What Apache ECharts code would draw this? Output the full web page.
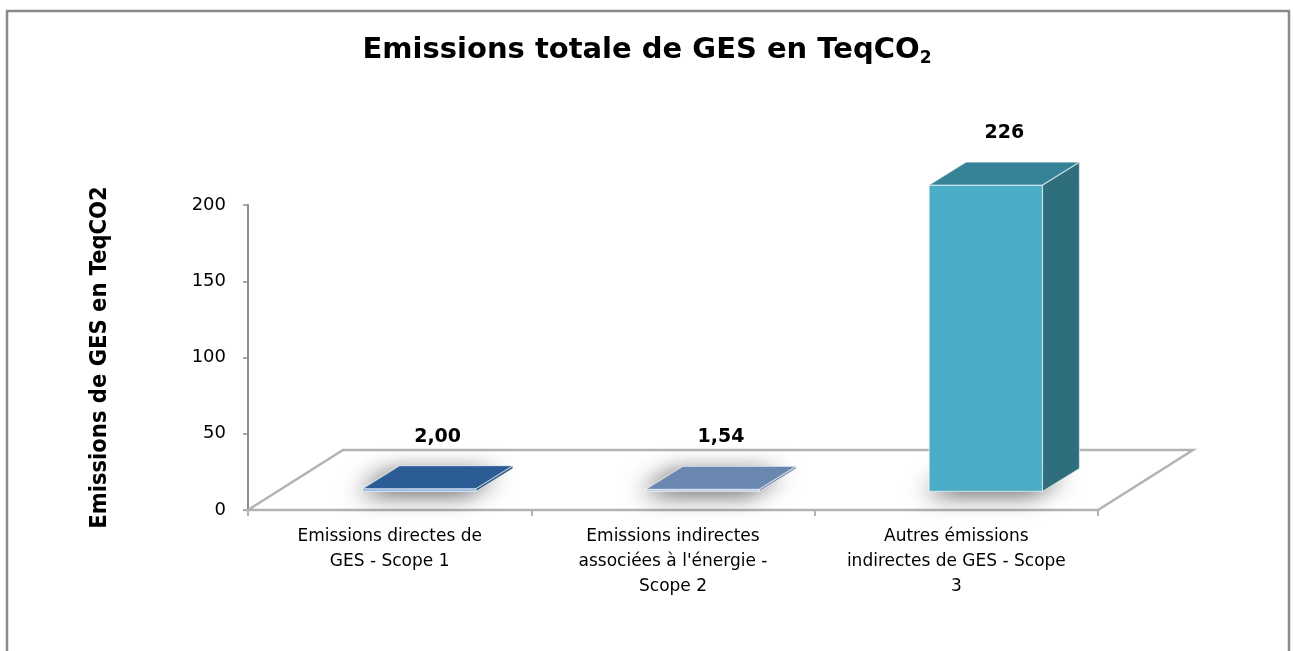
<!DOCTYPE html>
<html>
<head>
<meta charset="utf-8">
<script src="https://cdn.jsdelivr.net/npm/echarts@6/dist/echarts.min.js"></script>
<style>
  html, body { margin: 0; padding: 0; background: #fff; }
  #main { width: 1294px; height: 651px; }
</style>
</head>
<body>
<div id="main"></div>
<script>
// données du graphique
const categories = [
  'Emissions directes de\nGES - Scope 1',
  "Emissions indirectes\nassociées à l'énergie -\nScope 2",
  'Autres émissions\nindirectes de GES - Scope\n3'
];
const values = [2.00, 1.54, 226];
const yTicks = [0, 50, 100, 150, 200];

// couleurs des faces : avant, dessus, côté
const faceColors = [
  ['#8DB3E2', '#2B5C96', '#24497A'],
  ['#B4C7E0', '#6A88AF', '#556F91'],
  ['#4AACC6', '#368296', '#2F6E7D']
];

const FLOOR_D = [95, -60];   // profondeur du sol
const BAR_D = [37, -23];     // profondeur d'une barre
const BAR_POS = 0.31;        // position de la barre dans la profondeur
const BAR_RATIO = 0.4;

const chart = echarts.init(document.getElementById('main'));

function fmtLabel(v) {
  return v >= 100 ? String(Math.round(v)) : v.toFixed(2).replace('.', ',');
}

// sol en perspective, calé sur la grille
function renderFloor(params, api) {
  let cs = params.coordSys;
  let x0 = cs.x, x1 = cs.x + cs.width, y = cs.y + cs.height;
  return {
    type: 'group',
    children: [{
      type: 'polygon',
      shape: { points: [[x0, y], [x0 + FLOOR_D[0], y + FLOOR_D[1]], [x1 + FLOOR_D[0], y + FLOOR_D[1]], [x1, y]] },
      style: { fill: '#fff', stroke: '#b3b3b3', lineWidth: 2.5 }
    }]
  };
}

function renderBar(params, api) {
  let i = api.value(0);
  let v = api.value(1);
  let base = api.coord([i, 0]);
  let top = api.coord([i, v]);
  let bw = api.size([1, 0])[0] * BAR_RATIO;
  let ox = FLOOR_D[0] * BAR_POS, oy = FLOOR_D[1] * BAR_POS;
  let x0 = base[0] - bw / 2 + ox, x1 = x0 + bw;
  let yb = base[1] + oy, yt = top[1] + oy;
  let dx = BAR_D[0], dy = BAR_D[1];
  let c = faceColors[params.dataIndex];
  let edge = 'rgba(255,255,255,0.55)';
  return {
    type: 'group',
    children: [
      {
        // ombre floue sur le sol, la forme elle-même est cachée sous la barre
        type: 'polygon',
        shape: { points: [[x0 + 4, yb - 1], [x0 + dx, yb + dy + 2], [x1 + dx - 4, yb + dy + 2], [x1, yb - 1]] },
        style: { fill: '#555', shadowBlur: 24, shadowOffsetX: -10, shadowOffsetY: 3, shadowColor: 'rgba(0,0,0,0.75)' },
        z2: 0
      },
      {
        type: 'polygon',
        shape: { points: [[x1, yt], [x1 + dx, yt + dy], [x1 + dx, yb + dy], [x1, yb]] },
        style: { fill: c[2], stroke: edge, lineWidth: 1.2 },
        z2: 1
      },
      {
        type: 'rect',
        shape: { x: x0, y: yt, width: bw, height: Math.max(yb - yt, 1) },
        style: { fill: c[0], stroke: edge, lineWidth: 1.2 },
        z2: 2
      },
      {
        type: 'polygon',
        shape: { points: [[x0, yt], [x0 + dx, yt + dy], [x1 + dx, yt + dy], [x1, yt]] },
        style: { fill: c[1], stroke: edge, lineWidth: 1.2 },
        z2: 3
      },
      {
        type: 'text',
        x: (x0 + x1) / 2 + dx / 2,
        y: yt + dy - 29,
        style: {
          text: fmtLabel(v),
          font: 'bold 19px "DejaVu Sans"',
          fill: '#000',
          align: 'center',
          verticalAlign: 'middle'
        },
        z2: 4
      }
    ]
  };
}

const option = {
  animation: false,
  backgroundColor: '#fff',
  title: {
    text: '{a|Emissions totale de GES en TeqCO}{s|2}',
    left: 'center',
    top: 29,
    textStyle: {
      rich: {
        a: { fontFamily: 'DejaVu Sans', fontWeight: 'bold', fontSize: 29, color: '#000' },
        s: { fontFamily: 'DejaVu Sans', fontWeight: 'bold', fontSize: 17, color: '#000', padding: [16, 0, 0, 0] }
      }
    }
  },
  graphic: [{
    type: 'rect',
    shape: { x: 7, y: 11, width: 1282, height: 660 },
    style: { fill: 'none', stroke: '#8a8a8a', lineWidth: 2.5 },
    silent: true
  }],
  grid: { left: 248, right: 196, top: 205, bottom: 141 },
  xAxis: {
    type: 'category',
    data: categories,
    axisLine: { show: false },
    axisTick: { show: true, length: 6, lineStyle: { color: '#9a9a9a', width: 1.5 } },
    axisLabel: {
      color: '#000',
      fontFamily: 'DejaVu Sans',
      fontSize: 17,
      lineHeight: 25,
      margin: 14,
      interval: 0
    }
  },
  yAxis: [{
    type: 'value',
    min: yTicks[0],
    max: yTicks[yTicks.length - 1],
    interval: 50,
    name: 'Emissions de GES en TeqCO2',
    nameLocation: 'middle',
    nameGap: 136,
    nameTextStyle: { fontFamily: 'DejaVu Sans Condensed', fontWeight: 'bold', fontSize: 23.5, color: '#000' },
    axisLine: { show: true, lineStyle: { color: '#8c8c8c', width: 2 } },
    axisTick: { show: true, length: 5, lineStyle: { color: '#8c8c8c', width: 1.5 } },
    axisLabel: { color: '#000', fontFamily: 'DejaVu Sans', fontSize: 18, margin: 22 },
    splitLine: { show: false }
  }, {
    // échelle de profondeur des barres (perspective)
    type: 'value',
    min: 0,
    max: 225,
    show: false
  }],
  series: [{
    type: 'custom',
    name: 'sol',
    renderItem: renderFloor,
    data: [[0]],
    z: 1,
    silent: true
  }, {
    type: 'custom',
    name: 'Emissions',
    yAxisIndex: 1,
    renderItem: renderBar,
    data: values.map((v, i) => [i, v]),
    encode: { x: 0, y: 1 },
    clip: false,
    z: 3
  }]
};

chart.setOption(option);
</script>
</body>
</html>
